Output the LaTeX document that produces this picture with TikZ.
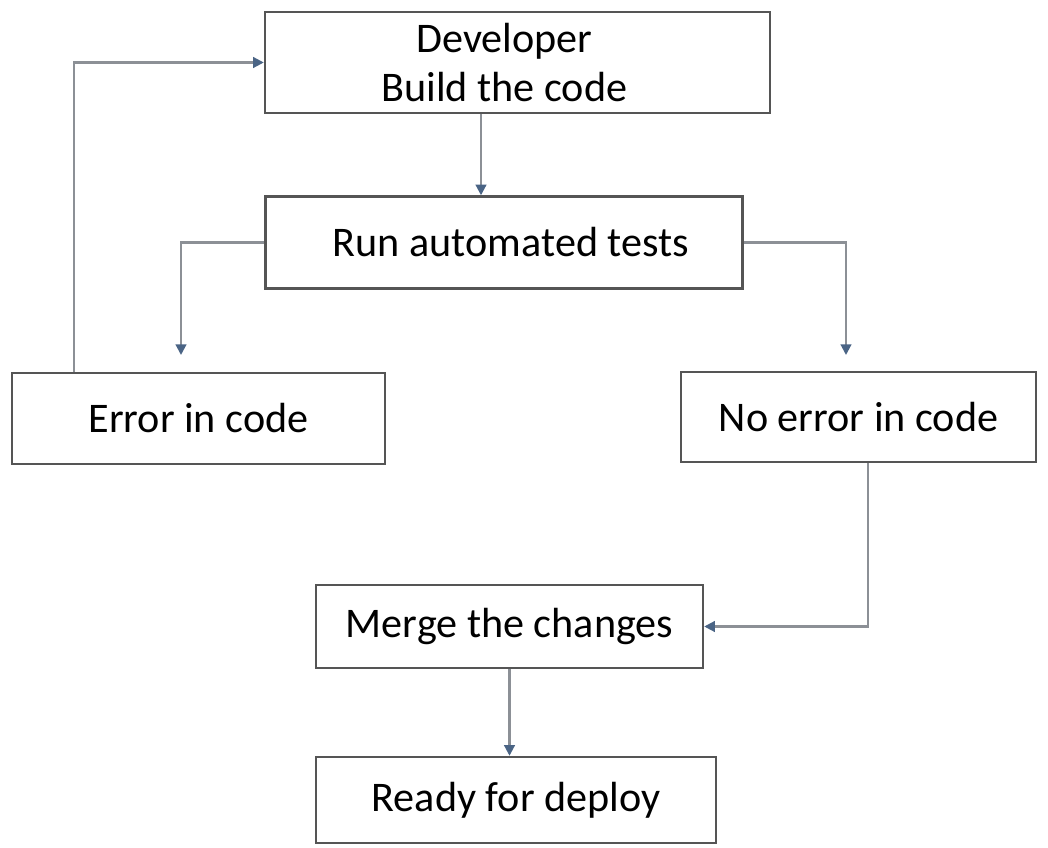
\documentclass[tikz,border=0pt]{standalone}
\usepackage{fontspec}
\setmainfont{Carlito}
\usetikzlibrary{arrows.meta}
\definecolor{boxline}{HTML}{555555}
\definecolor{linkline}{HTML}{8C9096}
\definecolor{tipblue}{HTML}{4A6485}

\begin{document}
\begin{tikzpicture}[x=0.02cm,y=-0.02cm]
\tikzstyle{stepbox}=[draw=boxline,line width=1.4pt,rectangle,inner sep=0pt,align=center,font=\fontsize{24}{27.5}\selectfont]
\tikzstyle{link}=[draw=linkline,line width=1.2pt,-{Triangle[length=6pt,width=6pt,fill=tipblue,color=tipblue]}]
\useasboundingbox (0,0) rectangle (1048,848);
% boxes
\node[stepbox,minimum width=505*0.02cm,minimum height=101*0.02cm] (dev) at (517.5,62.5) {Developer\hspace*{15pt}\\Build the code\hspace*{15pt}};
\node[stepbox,minimum width=477*0.02cm,minimum height=92*0.02cm] (tests) at (504,242.5) {\hspace*{8pt}Run automated tests};
\node[stepbox,minimum width=373*0.02cm,minimum height=91*0.02cm] (err) at (198.5,418.5) {Error in code};
\node[stepbox,minimum width=355*0.02cm,minimum height=90*0.02cm] (ok) at (858.5,417) {No error in code};
\node[stepbox,minimum width=387*0.02cm,minimum height=83*0.02cm] (merge) at (509.5,626.5) {Merge the changes};
\node[stepbox,minimum width=400*0.02cm,minimum height=86*0.02cm] (ready) at (516,800) {Ready for deploy};
% bend points
\coordinate (down) at (481,0);
\coordinate (errtip) at (181,355);
\coordinate (oktip) at (846,355);
\coordinate (back) at (74,0);
\coordinate (fwd) at (868,0);
% connectors
\draw[link] (dev.south -| down) -- (tests.north -| down);
\draw[link] (tests.west) -| (errtip);
\draw[link] (tests.east) -| (oktip);
\draw[link] (err.north -| back) |- (dev.west);
\draw[link] (ok.south -| fwd) |- (merge.east);
\draw[link] (merge.south) -- (merge.south |- ready.north);
\end{tikzpicture}
\end{document}
